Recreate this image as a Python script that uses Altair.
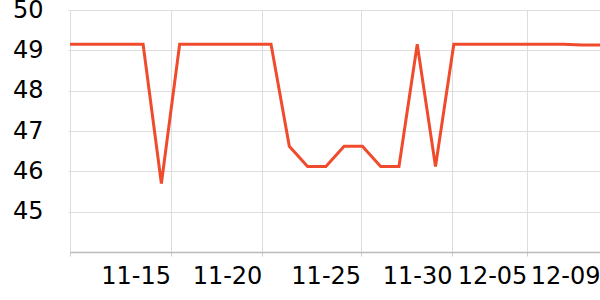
import altair as alt
import pandas as pd

dates = [
    "2023-11-10", "2023-11-11", "2023-11-12", "2023-11-13", "2023-11-14",
    "2023-11-15", "2023-11-16", "2023-11-17", "2023-11-18", "2023-11-19",
    "2023-11-20", "2023-11-21", "2023-11-22", "2023-11-23", "2023-11-24",
    "2023-11-25", "2023-11-26", "2023-11-27", "2023-11-28", "2023-11-29",
    "2023-11-30", "2023-12-01", "2023-12-02", "2023-12-03", "2023-12-04",
    "2023-12-05", "2023-12-06", "2023-12-07", "2023-12-08", "2023-12-09",
]
values = [
    49.15, 49.15, 49.15, 49.15, 49.15,
    45.70, 49.15, 49.15, 49.15, 49.15,
    49.15, 49.15, 46.62, 46.12, 46.12,
    46.62, 46.62, 46.12, 46.12, 49.15,
    46.12, 49.15, 49.15, 49.15, 49.15,
    49.15, 49.15, 49.15, 49.13, 49.13,
]
y_ticks = [45, 46, 47, 48, 49, 50]
# x tick positions (year, month, day, hour, minute)
x_ticks = [
    (2023, 11, 10, 0, 0),
    (2023, 11, 15, 12, 0),
    (2023, 11, 20, 12, 0),
    (2023, 11, 25, 21, 36),
    (2023, 11, 30, 21, 36),
    (2023, 12, 5, 0, 0),
    (2023, 12, 9, 0, 0),
]

df = pd.DataFrame({"date": [d + "T00:00:00" for d in dates], "value": values})

x_vals = [alt.DateTime(year=y, month=m, date=d, hours=h, minutes=mi) for (y, m, d, h, mi) in x_ticks]

chart = alt.Chart(df).mark_line(color="#ef4b2c", strokeWidth=3).encode(
    x=alt.X(
        "date:T",
        scale=alt.Scale(padding=0),
        axis=alt.Axis(
            title=None,
            values=x_vals,
            format="%m-%d",
            labelExpr="datum.index == 0 ? '' : datum.label",
            labelAlign="right",
            labelBaseline="top",
            labelFontSize=24,
            labelColor="#000000",
            labelPadding=8,
            tickSize=4,
            tickColor="#cccccc",
            domainColor="#bbbbbb",
            domainWidth=1.5,
            grid=True,
            gridColor="#dddddd",
            labelOverlap=False,
            labelFlush=False,
        ),
    ),
    y=alt.Y(
        "value:Q",
        scale=alt.Scale(domain=[44, 50], nice=False, zero=False),
        axis=alt.Axis(
            title=None,
            values=y_ticks,
            labelFontSize=24,
            labelColor="#000000",
            labelPadding=25,
            tickSize=2,
            tickColor="#dddddd",
            domain=False,
            grid=True,
            gridColor="#dddddd",
        ),
    ),
).properties(
    width=530,
    height=242,
    autosize=alt.AutoSizeParams(type="none"),
    padding={"left": 70, "top": 10, "right": 0, "bottom": 48},
).configure(
    font="DejaVu Sans",
).configure_view(stroke=None)

chart.save("out.html", embed_options={"renderer": "svg", "actions": False})
